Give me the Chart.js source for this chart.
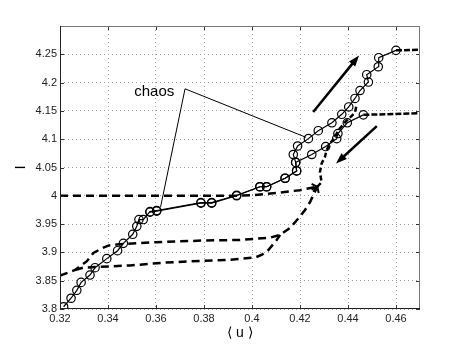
<!DOCTYPE html>
<html>
<head>
<meta charset="utf-8">
<script src="https://cdn.jsdelivr.net/npm/chart.js@4/dist/chart.umd.min.js"></script>
<style>
  html, body { margin: 0; padding: 0; background: #fff; }
</style>
</head>
<body>
<canvas id="chart" width="463" height="348"></canvas>
<script>
var family = "'Liberation Sans', Arial, Helvetica, sans-serif";

// tick labels
var xTicks = [0.32, 0.34, 0.36, 0.38, 0.4, 0.42, 0.44, 0.46];
var yTicks = [3.8, 3.85, 3.9, 3.95, 4, 4.05, 4.1, 4.15, 4.2, 4.25];

// ramo con cerchi che sale fino a 4.26
var upX = [0.3215, 0.3246, 0.327, 0.3288, 0.3325, 0.3346, 0.3395, 0.344, 0.3464, 0.3503,
  0.352, 0.3529, 0.3547, 0.3575, 0.3603, 0.3787, 0.3832, 0.3936, 0.4033, 0.4061,
  0.4138, 0.4186, 0.4182, 0.4172, 0.419, 0.4235, 0.4276, 0.4333, 0.4374, 0.4403,
  0.4429, 0.445, 0.4485, 0.4478, 0.4526, 0.4528, 0.46];
var upY = [3.804, 3.819, 3.833, 3.847, 3.86, 3.873, 3.889, 3.903, 3.916, 3.932,
  3.946, 3.958, 3.958, 3.972, 3.974, 3.988, 3.988, 4.001, 4.016, 4.016,
  4.031, 4.044, 4.059, 4.073, 4.088, 4.101, 4.115, 4.129, 4.144, 4.157,
  4.172, 4.186, 4.201, 4.214, 4.228, 4.244, 4.257];
var upTailX = [0.46, 0.47];
var upTailY = [4.257, 4.258];

// ramo con cerchi che finisce a 4.145
var downX = [0.3575, 0.3603, 0.3787, 0.3832, 0.3936, 0.4033, 0.4061, 0.4138, 0.4186, 0.4182,
  0.4249, 0.4307, 0.4353, 0.4358, 0.4397, 0.4464];
var downY = [3.971, 3.973, 3.987, 3.987, 4.0, 4.016, 4.016, 4.031, 4.044, 4.059,
  4.073, 4.087, 4.101, 4.110, 4.129, 4.143];
var downTailX = [0.4464, 0.47];
var downTailY = [4.143, 4.146];

// curve tratteggiate
var d1X = [0.32, 0.3935, 0.4, 0.41, 0.42, 0.4272];
var d1Y = [4.0, 4.0, 4.001, 4.005, 4.01, 4.016];
var d2X = [0.32, 0.3263, 0.3311, 0.3339, 0.3374, 0.3401, 0.3436, 0.36, 0.38, 0.395,
  0.4075, 0.4117, 0.4158, 0.4193, 0.4221, 0.4242, 0.4255, 0.4272];
var d2Y = [3.859, 3.869, 3.884, 3.899, 3.907, 3.912, 3.914, 3.918, 3.921, 3.922,
  3.926, 3.931, 3.943, 3.960, 3.975, 3.989, 4.001, 4.016];
var d3X = [0.3263, 0.3297, 0.3346, 0.3492, 0.3638, 0.3783, 0.3908, 0.4013, 0.4042, 0.4068, 0.4103, 0.4117];
var d3Y = [3.869, 3.873, 3.874, 3.877, 3.882, 3.885, 3.887, 3.891, 3.896, 3.904, 3.922, 3.931];
var d4X = [0.4272, 0.429, 0.4283, 0.429, 0.4304, 0.4311, 0.4325, 0.4346, 0.436, 0.4388, 0.4429, 0.4436];
var d4Y = [4.016, 4.024, 4.042, 4.057, 4.069, 4.081, 4.092, 4.104, 4.116, 4.13, 4.147, 4.161];

// annotazione "chaos" e frecce
var chaosText = "chaos";
var chaosAt = [0.3676, 4.184];
var chaosFrom = [0.3721, 4.189];
var chaosTo = [[0.3619, 3.980], [0.4225, 4.1033]];
var arrows = [
  [[0.4255, 4.148], [0.4446, 4.248]],
  [[0.452, 4.123], [0.435, 4.057]]
];

function zip(xs, ys) {
  return xs.map((x, i) => ({ x: x, y: ys[i] }));
}

function circles(xs, ys) {
  return {
    data: zip(xs, ys),
    showLine: true,
    borderColor: "#000",
    borderWidth: 1.2,
    pointRadius: 4.2,
    pointBorderWidth: 1.2,
    pointBorderColor: "#000",
    pointBackgroundColor: "rgba(0,0,0,0)",
  };
}

function dashed(xs, ys, width, dash) {
  return {
    data: zip(xs, ys),
    showLine: true,
    borderColor: "#000",
    borderWidth: width,
    borderDash: dash,
    pointRadius: 0,
  };
}

function head(ctx, x0, y0, x1, y1, len, half, fill) {
  let a = Math.atan2(y1 - y0, x1 - x0);
  let bx = x1 - len * Math.cos(a);
  let by = y1 - len * Math.sin(a);
  let px = -Math.sin(a) * half;
  let py = Math.cos(a) * half;
  ctx.beginPath();
  ctx.moveTo(bx + px, by + py);
  ctx.lineTo(x1, y1);
  ctx.lineTo(bx - px, by - py);
  if (fill) {
    ctx.closePath();
    ctx.fill();
  } else {
    ctx.stroke();
  }
}

// box, tacche interne, testo e frecce
var extras = {
  id: "extras",
  afterDatasetsDraw(chart) {
    let ctx = chart.ctx;
    let xs = chart.scales.x;
    let ys = chart.scales.y;
    let a = chart.chartArea;
    let px = (v) => xs.getPixelForValue(v);
    let py = (v) => ys.getPixelForValue(v);

    ctx.save();
    ctx.setLineDash([]);

    // tacche interne
    ctx.strokeStyle = "#333";
    ctx.lineWidth = 1;
    for (let v of xTicks) {
      let x = Math.round(px(v)) + 0.5;
      ctx.beginPath();
      ctx.moveTo(x, a.bottom); ctx.lineTo(x, a.bottom - 4);
      ctx.moveTo(x, a.top); ctx.lineTo(x, a.top + 4);
      ctx.stroke();
    }
    for (let v of yTicks) {
      let y = Math.round(py(v)) + 0.5;
      ctx.beginPath();
      ctx.moveTo(a.left, y); ctx.lineTo(a.left + 4, y);
      ctx.moveTo(a.right, y); ctx.lineTo(a.right - 4, y);
      ctx.stroke();
    }

    // box
    ctx.strokeStyle = "#777";
    ctx.beginPath();
    ctx.moveTo(a.left, a.top + 0.5); ctx.lineTo(a.right, a.top + 0.5);
    ctx.moveTo(a.right - 0.5, a.top); ctx.lineTo(a.right - 0.5, a.bottom);
    ctx.stroke();
    ctx.strokeStyle = "#222";
    ctx.beginPath();
    ctx.moveTo(a.left + 0.5, a.top); ctx.lineTo(a.left + 0.5, a.bottom);
    ctx.moveTo(a.left, a.bottom - 0.5); ctx.lineTo(a.right, a.bottom - 0.5);
    ctx.stroke();

    // chaos
    ctx.strokeStyle = "#000";
    ctx.lineWidth = 1;
    for (let t of chaosTo) {
      ctx.beginPath();
      ctx.moveTo(px(chaosFrom[0]), py(chaosFrom[1]));
      ctx.lineTo(px(t[0]), py(t[1]));
      ctx.stroke();
    }
    ctx.fillStyle = "#000";
    ctx.font = "15px " + family;
    ctx.textAlign = "right";
    ctx.textBaseline = "middle";
    ctx.fillText(chaosText, px(chaosAt[0]), py(chaosAt[1]));

    // frecce
    ctx.lineWidth = 2.5;
    ctx.lineCap = "butt";
    for (let ar of arrows) {
      let x0 = px(ar[0][0]), y0 = py(ar[0][1]);
      let x1 = px(ar[1][0]), y1 = py(ar[1][1]);
      let ang = Math.atan2(y1 - y0, x1 - x0);
      ctx.beginPath();
      ctx.moveTo(x0, y0);
      ctx.lineTo(x1 - 6 * Math.cos(ang), y1 - 6 * Math.sin(ang));
      ctx.stroke();
      head(ctx, x0, y0, x1, y1, 11, 4, true);
    }

    // punte sulle curve tratteggiate
    ctx.lineWidth = 2;
    for (let c of [[d1X, d1Y], [d2X, d2Y]]) {
      let n = c[0].length;
      head(ctx, px(c[0][n - 2]), py(c[1][n - 2]), px(c[0][n - 1]), py(c[1][n - 1]), 5, 4, false);
    }
    ctx.restore();
  },
};

var ctx = document.getElementById("chart");
var chart = new Chart(ctx, {
  type: "scatter",
  data: {
    datasets: [
      dashed(d1X, d1Y, 2.5, [8, 5]),
      dashed(d2X, d2Y, 2.5, [8, 5]),
      dashed(d3X, d3Y, 2.5, [8, 5]),
      dashed(d4X, d4Y, 2.5, [5, 3]),
      dashed(upTailX, upTailY, 2.5, [6, 2]),
      dashed(downTailX, downTailY, 2.5, [6, 2]),
      circles(upX, upY),
      circles(downX, downY),
    ],
  },
  options: {
    responsive: false,
    animation: false,
    layout: { padding: { top: 26, right: 43, left: 0, bottom: 0 } },
    plugins: {
      legend: { display: false },
      tooltip: { enabled: false },
    },
    scales: {
      x: {
        type: "linear",
        min: 0.32,
        max: 0.47,
        afterFit: (s) => { s.height = 39; },
        afterBuildTicks: (s) => { s.ticks = xTicks.map((v) => ({ value: v })); },
        ticks: {
          callback: (v) => String(v),
          font: { size: 11, family: family },
          color: "#222",
          padding: 3,
          maxRotation: 0,
          autoSkip: false,
        },
        grid: { color: "#a0a0a0", lineWidth: 1, drawTicks: false },
        border: { display: false, dash: [1, 3] },
        title: {
          display: true,
          text: "⟨ u ⟩",
          font: { size: 14, family: family },
          color: "#000",
          padding: { top: 0, bottom: 6 },
        },
      },
      y: {
        type: "linear",
        min: 3.8,
        max: 4.3,
        afterFit: (s) => { s.width = 60; },
        afterBuildTicks: (s) => { s.ticks = yTicks.map((v) => ({ value: v })); },
        ticks: {
          callback: (v) => String(v),
          font: { size: 11, family: family },
          color: "#222",
          padding: 3,
          autoSkip: false,
        },
        grid: { color: "#a0a0a0", lineWidth: 1, drawTicks: false },
        border: { display: false, dash: [1, 3] },
        title: {
          display: true,
          text: "I",
          font: { size: 15, family: family },
          color: "#000",
          padding: { top: 12, bottom: 0 },
        },
      },
    },
  },
  plugins: [extras],
});
</script>
</body>
</html>
